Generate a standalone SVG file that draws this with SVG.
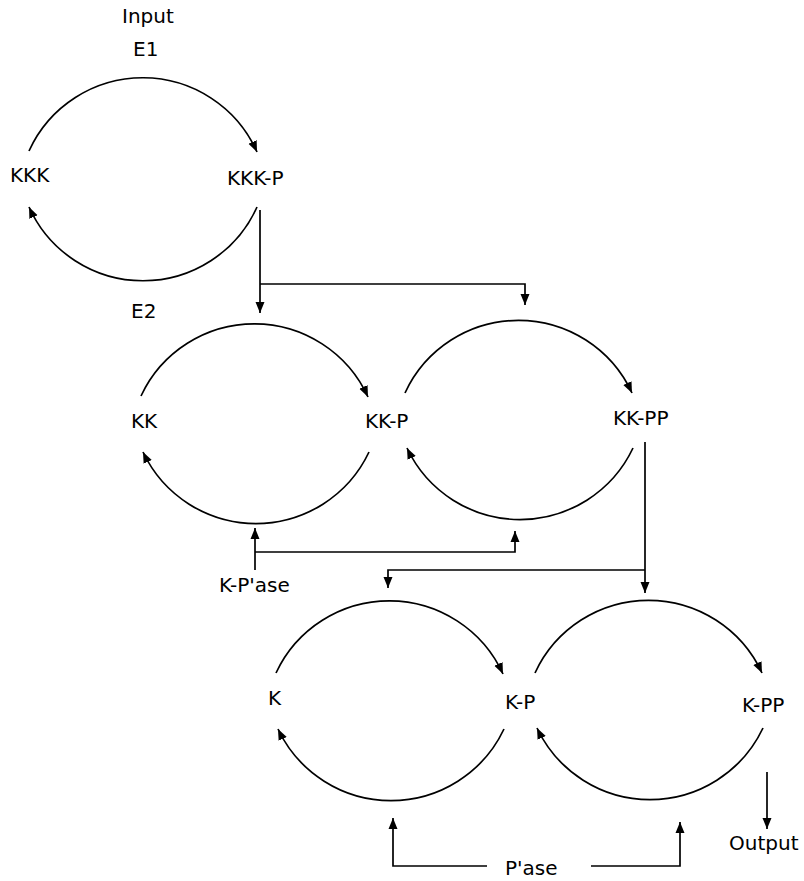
<svg xmlns="http://www.w3.org/2000/svg" width="804" height="881" viewBox="0 0 804 881">
  <style>
    .lbl { font-family: "DejaVu Sans", sans-serif; font-size: 20px; fill: #000; }
    .arc { fill: none; stroke: #000; stroke-width: 1.7; marker-end: url(#head); }
    .wire { fill: none; stroke: #000; stroke-width: 1.7; }
    .wire.arrow { marker-end: url(#head); }
  </style>
  <defs>
    <marker id="head" viewBox="0 0 11 10" refX="11" refY="5" markerWidth="11" markerHeight="10" markerUnits="userSpaceOnUse" orient="auto">
      <path d="M0,0.5 L11,5 L0,9.5 z" fill="#000"/>
    </marker>
  </defs>

  <rect width="804" height="881" fill="#fff"/>

  <!-- labels -->
  <g id="input"><text class="lbl" x="122" y="23">Input</text></g>
  <g id="e1"><text class="lbl" x="133" y="56">E1</text></g>
  <g id="e2"><text class="lbl" x="131" y="318">E2</text></g>
  <g id="kkk"><text class="lbl" x="10" y="182">KKK</text></g>
  <g id="kkk-p"><text class="lbl" x="227" y="185">KKK-P</text></g>
  <g id="kk"><text class="lbl" x="131" y="428">KK</text></g>
  <g id="kk-p"><text class="lbl" x="365" y="428">KK-P</text></g>
  <g id="kk-pp"><text class="lbl" x="613" y="425">KK-PP</text></g>
  <g id="k-pase"><text class="lbl" x="219" y="592">K-P'ase</text></g>
  <g id="k"><text class="lbl" x="268" y="705">K</text></g>
  <g id="k-p"><text class="lbl" x="505" y="709">K-P</text></g>
  <g id="k-pp"><text class="lbl" x="742" y="712">K-PP</text></g>
  <g id="pase"><text class="lbl" x="505" y="875">P'ase</text></g>
  <g id="output"><text class="lbl" x="729" y="850">Output</text></g>

  <!-- connectors -->
  <g id="connectors">
    <!-- KKK cycle -->
    <path class="arc" d="M29,151 A125,125 0 0 1 257,152"/>
    <path class="arc" d="M257,207 A125,125 0 0 1 29,207"/>
    <!-- KK -> KK-P cycle -->
    <path class="arc" d="M141,396 A125,125 0 0 1 368,397"/>
    <path class="arc" d="M369,452 A125,125 0 0 1 143,452"/>
    <!-- KK-P -> KK-PP cycle -->
    <path class="arc" d="M405,393 A125,125 0 0 1 632,393"/>
    <path class="arc" d="M633,448 A125,125 0 0 1 407,448"/>
    <!-- K -> K-P cycle -->
    <path class="arc" d="M276,673 A125,125 0 0 1 503,674"/>
    <path class="arc" d="M504,729 A125,125 0 0 1 278,729"/>
    <!-- K-P -> K-PP cycle -->
    <path class="arc" d="M535,673 A125,125 0 0 1 762,673"/>
    <path class="arc" d="M763,728 A125,125 0 0 1 537,728"/>

    <!-- KKK-P activates both KK steps -->
    <path class="wire arrow" d="M260,210 L260,313"/>
    <path class="wire arrow" d="M260,284 L525,284 L525,305"/>
    <!-- K-P'ase acts on both KK dephosphorylations -->
    <path class="wire arrow" d="M255,570 L255,528"/>
    <path class="wire arrow" d="M255,552 L515,552 L515,531"/>
    <!-- KK-PP activates both K steps -->
    <path class="wire arrow" d="M645,442 L645,593"/>
    <path class="wire arrow" d="M645,570 L388,570 L388,588"/>
    <!-- P'ase acts on both K dephosphorylations -->
    <path class="wire arrow" d="M487,866 L393,866 L393,818"/>
    <path class="wire arrow" d="M591,866 L680,866 L680,822"/>
    <!-- output -->
    <path class="wire arrow" d="M767,772 L767,829"/>
  </g>
</svg>
